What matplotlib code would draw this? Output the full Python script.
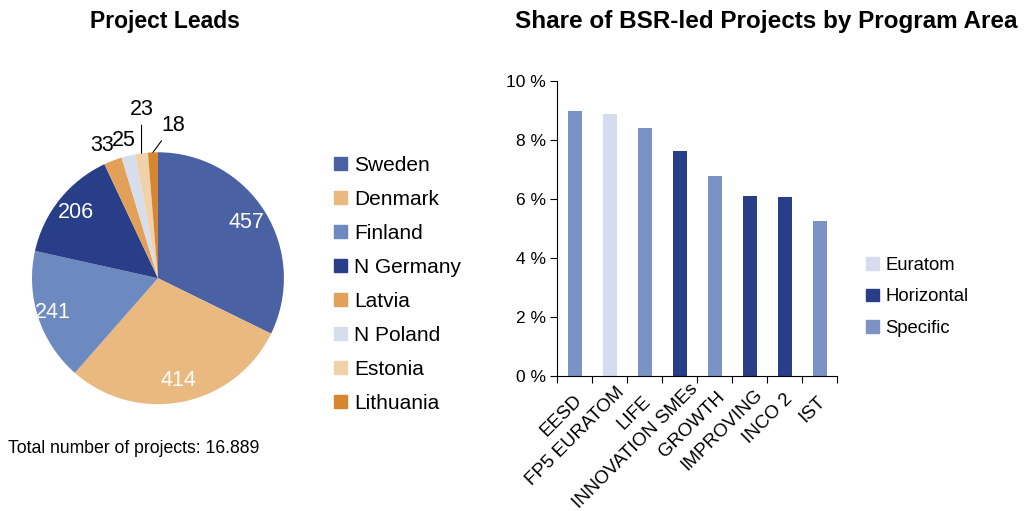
import numpy as np
import matplotlib.pyplot as plt
from matplotlib.patches import Patch
from matplotlib.transforms import ScaledTranslation

plt.rcParams['font.family'] = ['Liberation Sans', 'DejaVu Sans']

# Project leads by country
paises = ['Sweden', 'Denmark', 'Finland', 'N Germany', 'Latvia', 'N Poland', 'Estonia', 'Lithuania']
proyectos = [457, 414, 241, 206, 33, 25, 23, 18]
coloresPais = ['#4a62a3', '#eab980', '#6c8ac0', '#283e88', '#e3a058', '#d6deee', '#f0d2aa', '#d88530']

# Share of BSR-led projects by program area
areas = ['EESD', 'FP5 EURATOM', 'LIFE', 'INNOVATION SMEs', 'GROWTH', 'IMPROVING', 'INCO 2', 'IST']
porcentajes = [9.0, 8.9, 8.4, 7.65, 6.77, 6.1, 6.06, 5.25]
tipoArea = ['Specific', 'Euratom', 'Specific', 'Horizontal', 'Specific', 'Horizontal', 'Horizontal', 'Specific']
tipos = ['Euratom', 'Horizontal', 'Specific']
coloresTipo = {'Euratom': '#d4dcee', 'Horizontal': '#283e88', 'Specific': '#7a92c4'}

fig = plt.figure(figsize=(10.24, 5.11), dpi=100)

# Pastel
axPie = fig.add_axes([0.03125, 0.209, 0.246, 0.493])
wedges, _ = axPie.pie(proyectos, colors=coloresPais, startangle=90, counterclock=False,
                      radius=1, wedgeprops={'linewidth': 0})
axPie.set_xlim(-1, 1)
axPie.set_ylim(-1, 1)
axPie.set_aspect('auto')

# Etiquetas externas: (radio, giro en grados, con línea)
externas = {4: (1.145, 1.8, False), 5: (1.128, 0.2, False),
            6: (1.35, -1.9, True), 7: (1.22, -7.9, True)}

for i, (w, v) in enumerate(zip(wedges, proyectos)):
    angGrad = (w.theta1 + w.theta2) / 2
    ang = np.deg2rad(angGrad)
    if v > 100:
        r = 0.83 if i != 2 else 0.88
        axPie.text(r * np.cos(ang), r * np.sin(ang), str(v), color='white',
                   fontsize=15.5, ha='center', va='center')
        continue
    r, giro, linea = externas[i]
    a2 = np.deg2rad(angGrad + giro)
    xt, yt = r * np.cos(a2), r * np.sin(a2)
    if not linea:
        axPie.text(xt, yt, str(v), fontsize=15.5, ha='center', va='center')
    else:
        x0, y0 = np.cos(ang), np.sin(ang)
        if i == 6:
            xt = x0
        axPie.annotate(str(v), xy=(x0, y0), xytext=(xt, yt), fontsize=15.5,
                       ha='center', va='center',
                       arrowprops={'arrowstyle': '-', 'color': 'black', 'lw': 0.8,
                                   'shrinkA': 2, 'shrinkB': 0})

fig.legend(handles=[Patch(color=c, label=p) for p, c in zip(paises, coloresPais)],
           loc='center left', bbox_to_anchor=(0.326, 0.444), frameon=False,
           fontsize=15, handlelength=0.62, handleheight=0.62, handletextpad=0.35,
           labelspacing=0.72, borderpad=0, borderaxespad=0)

fig.text(0.161, 0.958, 'Project Leads', fontsize=16.5, fontweight='bold', ha='center', va='center')
fig.text(0.008, 0.123, 'Total number of projects: 16.889', fontsize=12.7, ha='left', va='center')

# Barras
axBar = fig.add_axes([0.544, 0.264, 0.2734, 0.577])
x = np.arange(len(areas))
axBar.bar(x, porcentajes, width=0.4, color=[coloresTipo[t] for t in tipoArea])
axBar.set_xlim(-0.5, len(areas) - 0.5)
axBar.set_ylim(0, 10)
axBar.set_yticks(np.arange(0, 11, 2))
axBar.set_yticklabels([f'{v} %' for v in range(0, 11, 2)], fontsize=12.5)
axBar.set_xticks(x)
axBar.set_xticklabels([])
axBar.set_xticks(np.arange(-0.5, len(areas)), minor=True)
axBar.tick_params(axis='x', which='major', length=0)
axBar.tick_params(axis='x', which='minor', length=5, width=0.8)
axBar.tick_params(axis='y', length=5, width=0.8, pad=3)
for s in ['top', 'right']:
    axBar.spines[s].set_visible(False)
for s in ['left', 'bottom']:
    axBar.spines[s].set_linewidth(0.8)

# Etiquetas del eje x giradas 45°, desplazadas según su longitud
etiquetas = [axBar.text(i, 0, a, fontsize=13.5, ha='right', va='center',
                        rotation_mode='anchor') for i, a in enumerate(areas)]
fig.canvas.draw()
renderer = fig.canvas.get_renderer()
for t in etiquetas:
    largo = t.get_window_extent(renderer).width
    d = (10 + 0.13 * largo) / np.sqrt(2)
    t.set_rotation(45)
    t.set_transform(axBar.transData + ScaledTranslation((d - 7) / 100, (d - 33) / 100, fig.dpi_scale_trans))

fig.legend(handles=[Patch(color=coloresTipo[t], label=t) for t in tipos],
           loc='center left', bbox_to_anchor=(0.846, 0.419), frameon=False,
           fontsize=13.3, handlelength=0.68, handleheight=0.68, handletextpad=0.35,
           labelspacing=0.78, borderpad=0, borderaxespad=0)

fig.text(0.748, 0.958, 'Share of BSR-led Projects by Program Area', fontsize=17.5,
         fontweight='bold', ha='center', va='center')

plt.savefig('out.png', dpi=100)
